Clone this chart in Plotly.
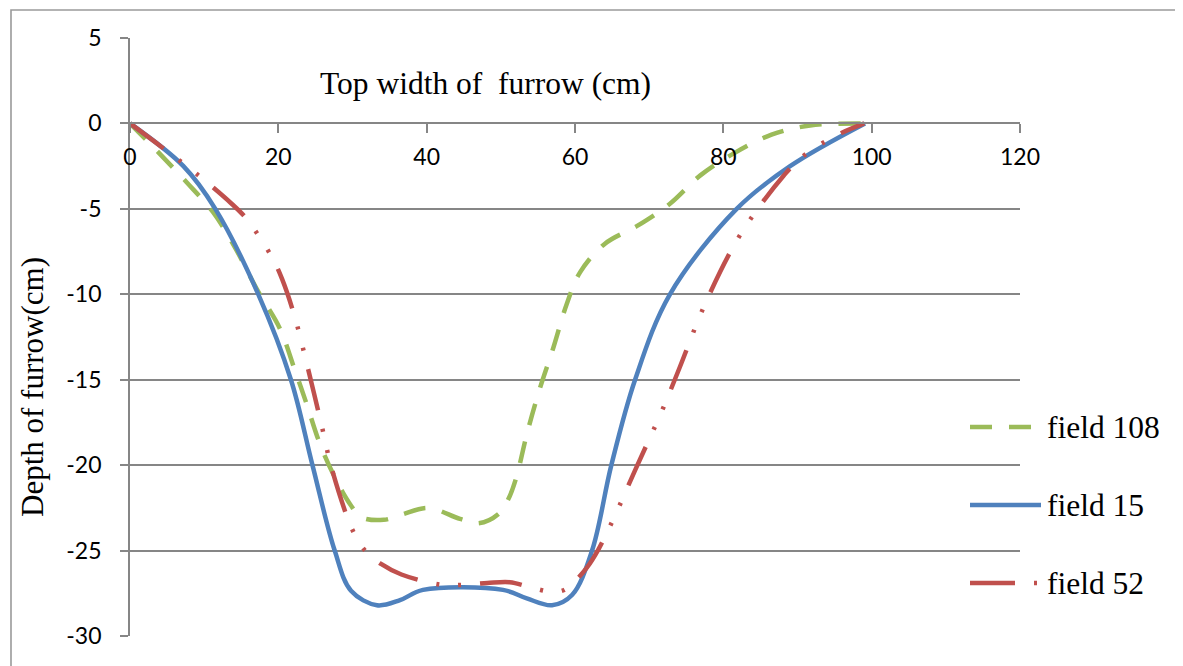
import plotly.graph_objects as go

# ---- data ----
f108_x = [0, 3.8, 7.6, 11.2, 14.2, 17.1, 20.2, 22.2, 23.8, 25.6, 27.6, 29.7, 31.2, 34.2, 36.6,
          40.2, 44.5, 47.0, 49.7, 51.0, 52.1, 53.5, 55.2, 57.1, 58.9, 60.7, 64.0, 68.5, 72.8,
          76.9, 81.3, 86.5, 91.7, 98.8]
f108_y = [0, -1.68, -3.43, -5.2, -7.3, -9.7, -12.0, -14.4, -16.4, -18.75, -20.7, -22.3, -23.05, -23.2, -22.9,
          -22.5, -23.15, -23.4, -22.85, -22.0, -20.7, -18.2, -15.6, -13.1, -10.55, -8.7, -7.05, -5.97, -4.7,
          -3.04, -1.78, -0.66, -0.12, 0]

f15_x = [0, 7.2, 11.5, 17.3, 21.7, 24.6, 27.6, 29.8, 33.3, 36.4, 39.5, 50.3, 53.5, 56.9, 59.6,
         62.3, 64.9, 68.1, 72.8, 81.8, 89.0, 99.1]
f15_y = [0, -2.5, -5, -10, -15, -20, -25, -27.35, -28.2, -27.9, -27.3, -27.3, -27.8, -28.2, -27.6,
         -25, -20, -15, -10, -5, -2.5, 0]

f52_x = [0, 4.3, 9.4, 13.7, 15.7, 19.1, 20.5, 22.2, 23.8, 25.8, 27.2, 29.9, 31.5, 33.9, 36.6,
         42.0, 45.2, 48.2, 51.2, 54.0, 56.6, 58.3, 59.5, 61.6, 63.2, 65.6, 68.2, 71.7, 74.1, 77.3, 81.3,
         84.3, 88.1, 90.3, 94.8, 99.0]
f52_y = [0, -1.39, -3.1, -4.7, -5.58, -7.8, -9.1, -11.3, -14.0, -17.6, -20.2, -23.7, -24.9, -25.8, -26.4,
         -27.0, -27.0, -26.9, -26.85, -27.15, -27.4, -27.35, -27.0, -26.0, -24.9, -22.75, -20.2, -16.85, -14.3,
         -10.8, -7.24, -5.2, -3.08, -2.07, -0.8, 0]

series_names = ["field 108", "field 15", "field 52"]
x_ticks = [0, 20, 40, 60, 80, 100, 120]
y_ticks = [5, 0, -5, -10, -15, -20, -25, -30]

# ---- styles ----
GREEN = "#9BBB59"
BLUE = "#4F81BD"
RED = "#C0504D"
GRID = "#868686"
LW = 4.5
DASH_G = "22px,17px"
DASH_R = "42px,19px,3px,19px,3px,19px"
DASH_R_LEG = "45px,19px,3px,19px"

OFF = 8  # page body margin
W, H = 1183 - OFF, 666 - OFF
L, R, T, B = 130 - OFF, 163, 38 - OFF, 30
PW, PH = W - L - R, H - T - B


def px(xp):  # window pixel -> paper x
    return (xp - OFF - L) / PW


def py(yp):  # window pixel -> paper y
    return (H - B - (yp - OFF)) / PH


fig = go.Figure()
fig.add_trace(go.Scatter(x=f108_x, y=f108_y, mode="lines", name=series_names[0],
                         line=dict(color=GREEN, width=LW, dash=DASH_G, shape="spline", smoothing=1.0)))
fig.add_trace(go.Scatter(x=f15_x, y=f15_y, mode="lines", name=series_names[1],
                         line=dict(color=BLUE, width=LW, shape="spline", smoothing=1.0)))
fig.add_trace(go.Scatter(x=f52_x, y=f52_y, mode="lines", name=series_names[2],
                         line=dict(color=RED, width=LW, dash=DASH_R, shape="spline", smoothing=1.0)))

tick_font = dict(family="Lato, 'Open Sans', sans-serif", size=23, color="#000000")
serif = "'Liberation Serif', 'Times New Roman', serif"

fig.update_layout(
    width=W, height=H,
    margin=dict(l=L, r=R, t=T, b=B, autoexpand=False),
    paper_bgcolor="white", plot_bgcolor="white",
    showlegend=False,
    xaxis=dict(range=[0, 120], tickvals=x_ticks, ticktext=[str(v) for v in x_ticks],
               showgrid=False, zeroline=False, showline=True, linecolor=GRID, linewidth=1.8,
               ticks="outside", ticklen=9, tickcolor=GRID, tickwidth=1.8,
               anchor="free", position=30 / 35, tickfont=tick_font, ticklabelstandoff=4),
    yaxis=dict(range=[-30, 5], tickvals=y_ticks, ticktext=[str(v) for v in y_ticks],
               showgrid=True, gridcolor=GRID, gridwidth=1.8, zeroline=False,
               showline=True, linecolor=GRID, linewidth=1.8,
               ticks="outside", ticklen=8, tickcolor=GRID, tickwidth=1.8,
               tickfont=tick_font, ticklabelstandoff=14),
)

shapes = []
# outer chart frame
shapes.append(dict(type="rect", xref="paper", yref="paper", x0=px(11), y0=py(720), x1=px(1220), y1=py(10),
                   line=dict(color="#9a9a9a", width=1.6), fillcolor="rgba(0,0,0,0)", layer="below"))
# manual legend keys
leg = [(427, GREEN, DASH_G, 970, 1032), (505, BLUE, "solid", 970, 1041), (583, RED, DASH_R_LEG, 970, 1038)]
for yy, col, dash, x0, x1 in leg:
    shapes.append(dict(type="line", xref="paper", yref="paper", x0=px(x0), x1=px(x1), y0=py(yy), y1=py(yy),
                       line=dict(color=col, width=LW, dash=dash)))
fig.update_layout(shapes=shapes)

ann = []
for yy, name in zip([427, 505, 583], series_names):
    ann.append(dict(xref="paper", yref="paper", x=px(1045), y=py(yy), text=name, showarrow=False,
                    xanchor="left", yanchor="middle", font=dict(family=serif, size=31.5, color="#000")))
ann.append(dict(xref="paper", yref="paper", x=px(485), y=py(84), text="Top width of \u00a0furrow (cm)",
                showarrow=False, xanchor="center", yanchor="middle",
                font=dict(family=serif, size=31.5, color="#000")))
ann.append(dict(xref="paper", yref="paper", x=px(33), y=py(387), text="Depth of furrow(cm)",
                showarrow=False, xanchor="center", yanchor="middle", textangle=-90,
                font=dict(family=serif, size=31, color="#000")))
fig.update_layout(annotations=ann)

fig.write_html("out.html")
